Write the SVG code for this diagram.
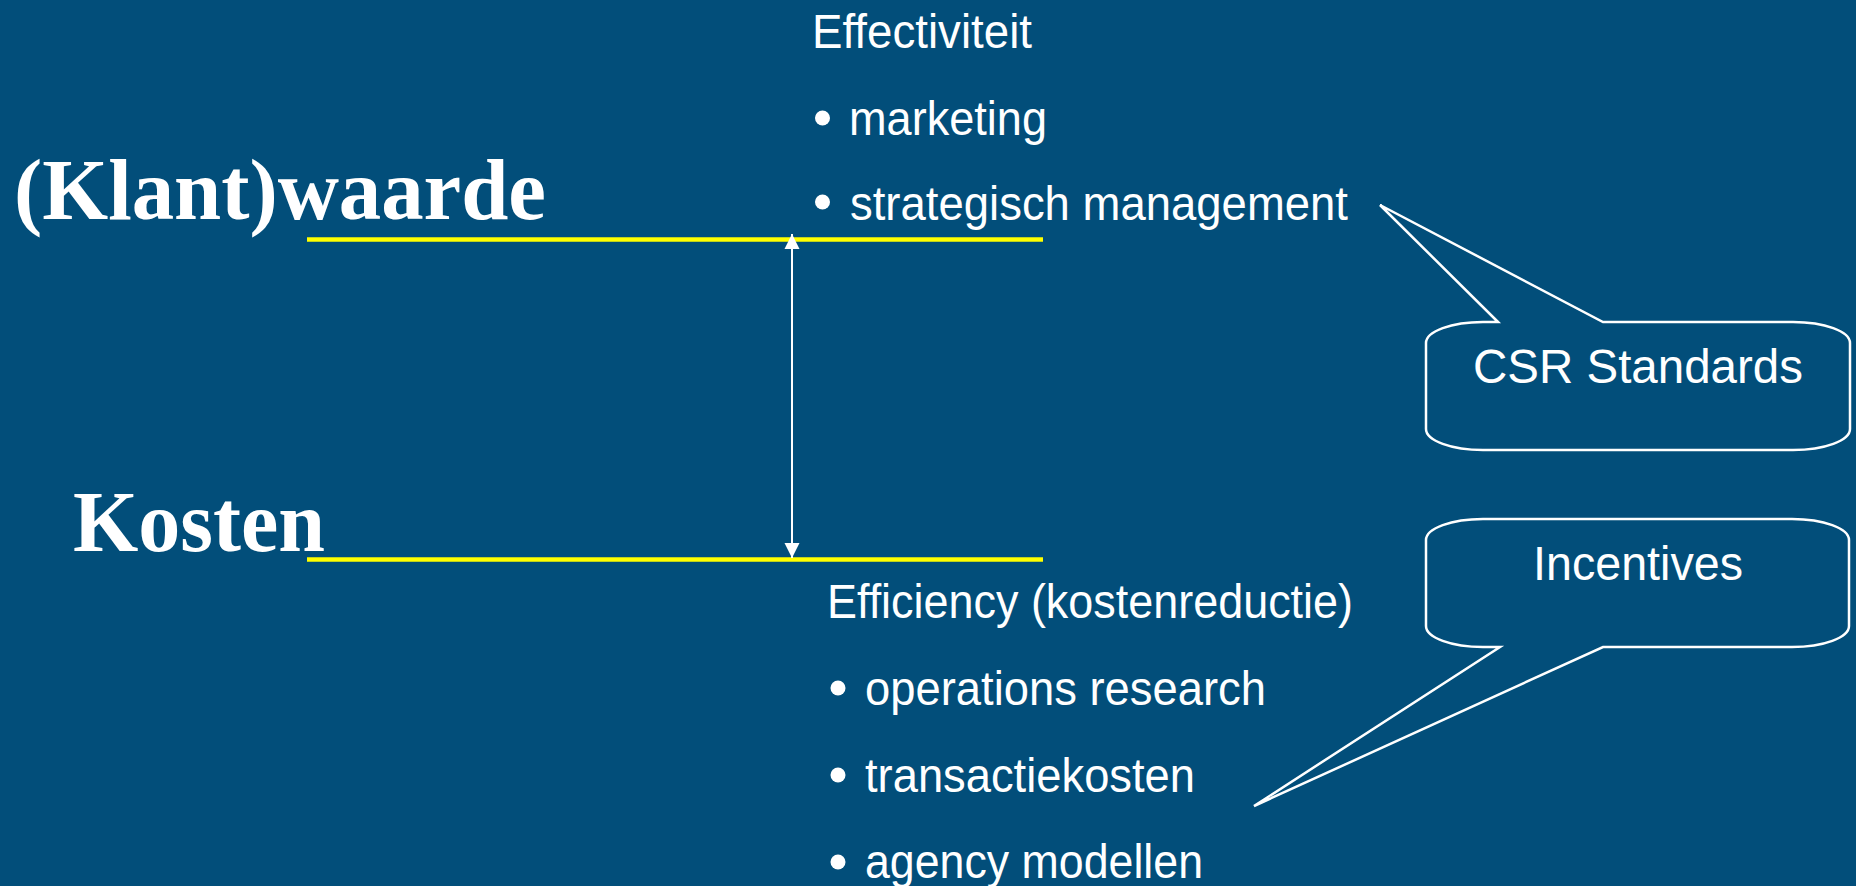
<svg xmlns="http://www.w3.org/2000/svg" width="1856" height="886" viewBox="0 0 1856 886">
  <style>
    .bg { fill: #024E7A; }
    .title { font-family: "Liberation Serif", "Times New Roman", serif; font-weight: bold; font-size: 87px; fill: #FFFFFF; }
    .item { font-family: "Liberation Sans", Arial, sans-serif; font-size: 49px; fill: #FFFFFF; }
    .call { font-family: "Liberation Sans", Arial, sans-serif; font-size: 47.5px; fill: #FFFFFF; }
    .bullet { fill: #FFFFFF; }
    .level { stroke: #FFFF00; stroke-width: 4.5; fill: none; }
    .conn { stroke: #FFFFFF; stroke-width: 2; fill: none; }
    .callout { stroke: #FFFFFF; stroke-width: 2.5; fill: #024E7A; stroke-linejoin: miter; }
  </style>
  <defs>
    <marker id="head" markerUnits="userSpaceOnUse" markerWidth="16" markerHeight="16" refX="15" refY="8" orient="auto-start-reverse">
      <path d="M0,0.5 L15,8 L0,15.5 Z" fill="#FFFFFF"/>
    </marker>
  </defs>
  <rect class="bg" x="0" y="0" width="1856" height="886"/>

  <g id="klantwaarde">
    <text class="title" x="14" y="219" textLength="532" lengthAdjust="spacingAndGlyphs">(Klant)waarde</text>
    <line class="level" x1="307" y1="239.5" x2="1043" y2="239.5"/>
  </g>

  <g id="kosten">
    <text class="title" x="73" y="551" textLength="252" lengthAdjust="spacingAndGlyphs">Kosten</text>
    <line class="level" x1="307" y1="559.5" x2="1043" y2="559.5"/>
  </g>

  <g id="effectiviteit">
    <text class="item" x="812" y="48" textLength="220" lengthAdjust="spacingAndGlyphs">Effectiviteit</text>
    <circle class="bullet" cx="822.5" cy="118" r="7.5"/>
    <text class="item" x="849" y="135" textLength="198" lengthAdjust="spacingAndGlyphs">marketing</text>
    <circle class="bullet" cx="822.5" cy="202" r="7.5"/>
    <text class="item" x="850" y="220" textLength="498" lengthAdjust="spacingAndGlyphs">strategisch management</text>
  </g>

  <g id="efficiency">
    <text class="item" x="827" y="618" textLength="526" lengthAdjust="spacingAndGlyphs">Efficiency (kostenreductie)</text>
    <circle class="bullet" cx="838" cy="688" r="7.5"/>
    <text class="item" x="865" y="705" textLength="401" lengthAdjust="spacingAndGlyphs">operations research</text>
    <circle class="bullet" cx="838" cy="775" r="7.5"/>
    <text class="item" x="865" y="792" textLength="330" lengthAdjust="spacingAndGlyphs">transactiekosten</text>
    <circle class="bullet" cx="838" cy="862" r="7.5"/>
    <text class="item" x="865" y="878" textLength="338" lengthAdjust="spacingAndGlyphs">agency modellen</text>
  </g>

  <g id="csr-standards">
    <path class="callout" d="M1498,322 L1380,205 L1603,322 H1793 A57,21 0 0 1 1850,343 V429 A57,21 0 0 1 1793,450 H1483 A57,21 0 0 1 1426,429 V343 A57,21 0 0 1 1483,322 Z"/>
    <text class="call" x="1638" y="383" text-anchor="middle" textLength="330" lengthAdjust="spacingAndGlyphs">CSR Standards</text>
  </g>

  <g id="incentives">
    <path class="callout" d="M1426,540 A57,21 0 0 1 1483,519 H1792 A57,21 0 0 1 1849,540 V626 A57,21 0 0 1 1792,647 H1603 L1254,806 L1500,647 H1483 A57,21 0 0 1 1426,626 Z"/>
    <text class="call" x="1638" y="580" text-anchor="middle" textLength="210" lengthAdjust="spacingAndGlyphs">Incentives</text>
  </g>

  <g id="connectors">
    <line class="conn" x1="792" y1="234" x2="792" y2="558" marker-start="url(#head)" marker-end="url(#head)"/>
  </g>
</svg>
